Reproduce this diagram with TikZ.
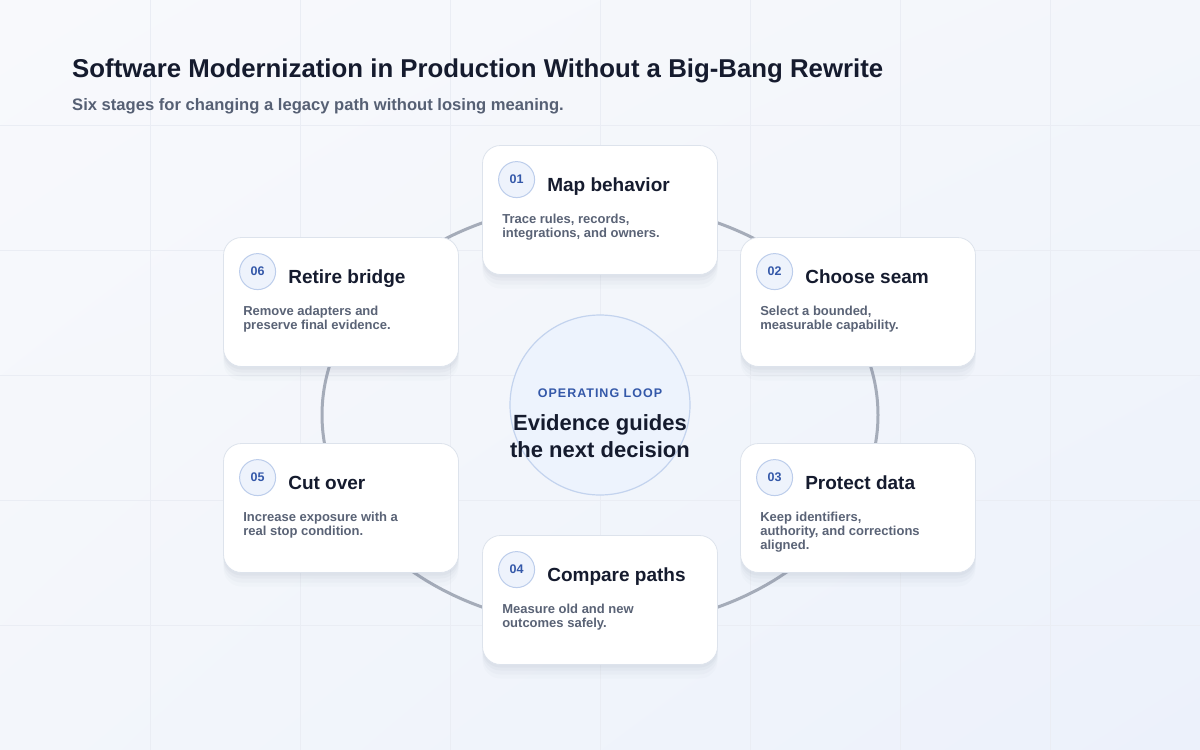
\documentclass[tikz,border=0pt]{standalone}
\usepackage{fontspec}
\setmainfont{Liberation Sans}
\usetikzlibrary{positioning,calc,shadings}
\definecolor{inkNavy}{HTML}{151B2E}
\definecolor{slateText}{HTML}{5A6376}
\definecolor{subGray}{HTML}{566074}
\definecolor{loopBlue}{HTML}{3458A9}
\definecolor{badgeFill}{HTML}{EEF3FC}
\definecolor{badgeLine}{HTML}{BCCDEB}
\definecolor{cardLine}{HTML}{DDE3EC}
\definecolor{shadowTint}{HTML}{6E7A94}
\definecolor{ringGray}{HTML}{A5ACB9}
\definecolor{hubFill}{HTML}{EDF3FD}
\definecolor{hubLine}{HTML}{C3D3EE}
\definecolor{bgTop}{HTML}{F8F9FC}
\definecolor{bgMid}{HTML}{F3F6FB}
\definecolor{bgBottom}{HTML}{ECF1FB}
\definecolor{gridLine}{HTML}{EAEDF4}
\tikzset{
    stagecard/.style={draw=cardLine,fill=white,rounded corners=18pt,line width=0.8pt,
        minimum width=235pt,minimum height=129pt,inner sep=0pt,
        preaction={fill=shadowTint,opacity=0.025,transform canvas={yshift=-14pt}},
        preaction={fill=shadowTint,opacity=0.035,transform canvas={yshift=-10pt}},
        preaction={fill=shadowTint,opacity=0.045,transform canvas={yshift=-6pt}},
        preaction={fill=shadowTint,opacity=0.05,transform canvas={yshift=-3pt}}},
    badge/.style={circle,draw=badgeLine,fill=badgeFill,line width=1pt,minimum size=36pt,
        inner sep=0pt,font=\fontsize{12.5}{14}\selectfont\bfseries,text=loopBlue},
    stagetitle/.style={anchor=base west,inner sep=0pt,
        font=\fontsize{19}{22}\selectfont\bfseries,text=inkNavy},
    stagetext/.style={anchor=north west,inner sep=0pt,align=left,
        font=\fontsize{13}{14}\selectfont\bfseries,text=slateText},
    hub/.style={circle,draw=hubLine,fill=hubFill,line width=1.2pt,minimum size=180pt,inner sep=0pt},
    ring/.style={draw=ringGray,line width=3pt},
    gridrule/.style={draw=gridLine,line width=1pt}
}
\begin{document}
\begin{tikzpicture}[x=1pt,y=-1pt]
    \useasboundingbox (0,0) rectangle (1200,750);
    \shade[upper left=bgTop,upper right=bgMid,lower left=bgMid,lower right=bgBottom]
        (0,0) rectangle (1200,750);
    \foreach \gx in {150,300,...,1050} {
        \draw[gridrule] (\gx,0) -- (\gx,750);
    }
    \foreach \gy in {125,250,...,625} {
        \draw[gridrule] (0,\gy) -- (1200,\gy);
    }
    % heading
    \node[anchor=base west,inner sep=0pt,font=\fontsize{25.8}{30}\selectfont\bfseries,text=inkNavy]
        (title) at (72,77) {Software Modernization in Production Without a Big-Bang Rewrite};
    \node[anchor=base west,inner sep=0pt,font=\fontsize{16.6}{20}\selectfont\bfseries,text=subGray]
        (subtitle) at (72,110) {Six stages for changing a legacy path without losing meaning.};
    % loop ring and hub
    \coordinate (ringc) at (600,415);
    \draw[ring] (ringc) ellipse [x radius=278pt,y radius=212pt];
    \node[hub] (hub) at (600,405) {};
    \node[anchor=base,inner sep=0pt,text=loopBlue,
        font=\fontsize{12.5}{14}\selectfont\bfseries\addfontfeature{LetterSpace=8}]
        (looptag) at (600,397.5) {OPERATING LOOP};
    \node[anchor=north,inner sep=0pt,align=center,text=inkNavy,
        font=\fontsize{22}{27}\selectfont\bfseries]
        (loopmsg) at (600,411.1) {\strut Evidence guides\\the next decision};
    % stage cards
    \foreach \i/\cx/\cy/\head/\body in {
        01/600/210/Map behavior/{Trace rules, records,\\integrations, and owners.},
        02/858/302/Choose seam/{Select a bounded,\\measurable capability.},
        03/858/508/Protect data/{Keep identifiers,\\authority, and corrections\\aligned.},
        04/600/600/Compare paths/{Measure old and new\\outcomes safely.},
        05/341/508/Cut over/{Increase exposure with a\\real stop condition.},
        06/341/302/Retire bridge/{Remove adapters and\\preserve final evidence.}} {
        \node[stagecard] (c\i) at (\cx,\cy) {};
        \node[badge] (b\i) at ([shift={(34.5,34.5)}]c\i.north west) {\i};
        \node[stagetitle] (t\i) at ([shift={(65,46)}]c\i.north west) {\head};
        \node[stagetext] (d\i) at ([shift={(20,68.2)}]c\i.north west) {\strut\body};
    }
\end{tikzpicture}
\end{document}
